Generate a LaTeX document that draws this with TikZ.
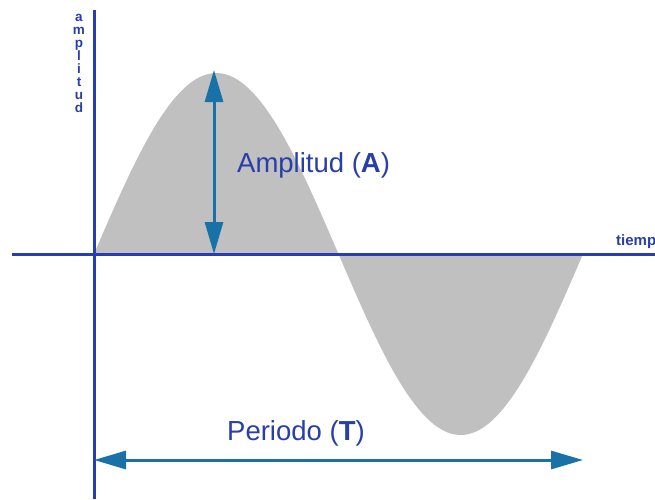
\documentclass[tikz,border=0pt]{standalone}
\usepackage{fontspec}
\setmainfont{Liberation Sans}
\usetikzlibrary{arrows.meta}
\definecolor{axisblue}{RGB}{38,62,178}
\definecolor{textblue}{RGB}{40,62,168}
\definecolor{arrowteal}{RGB}{24,114,168}
\definecolor{wavegray}{RGB}{192,192,192}
\tikzset{
  % the two axes
  axisline/.style={axisblue, line width=3pt},
  % measuring arrow with a head at both ends
  measure/.style={arrowteal, line width=3pt,
    {Triangle[length=32pt,width=18pt]}-{Triangle[length=32pt,width=18pt]}},
  biglabel/.style={text=textblue, font=\fontsize{27.5}{33}\selectfont,
    inner sep=0pt, anchor=base west},
  axislabel/.style={text=textblue, font=\bfseries\fontsize{15}{18}\selectfont,
    inner sep=0pt, anchor=base},
}

\begin{document}
\begin{tikzpicture}[x=1pt, y=-1pt]

  \clip (0,0) rectangle (655,499);

  % half waves above and below the time axis
  \fill[wavegray] plot[domain=0:360, samples=120, smooth]
    ({94+1.3583*\x}, {254-181*sin(\x)}) -- cycle;

  \coordinate (origin) at (94,254);
  \coordinate (xend) at (655,254);
  \coordinate (xstart) at (12,254);
  \coordinate (ytop) at (94,10);
  \coordinate (ybottom) at (94,499);
  \draw[axisline] (xstart) -- (xend);
  \draw[axisline] (ytop) -- (ybottom);

  \node[axislabel, anchor=base west] (tiempo) at (616,245) {tiempo};
  % letters stacked one under the other
  \node[axislabel, anchor=north, align=center,
    font={\bfseries\fontsize{13.5}{13}\selectfont\lineskiplimit=-20pt}]
    (amplabel) at (79,14) {a\\m\\p\\l\\i\\t\\u\\d};

  % amplitude
  \coordinate (peak) at (214,70);
  \coordinate (foot) at (214,254);
  \draw[measure] (foot) -- (peak);
  \node[biglabel] (amplitud) at (237,172) {Amplitud (\textbf{A})};

  % period
  \coordinate (tstart) at (94,460);
  \coordinate (tend) at (583,460);
  \draw[measure] (tstart) -- (tend);
  \node[biglabel] (periodo) at (227,440) {Periodo (\textbf{T})};

\end{tikzpicture}
\end{document}
